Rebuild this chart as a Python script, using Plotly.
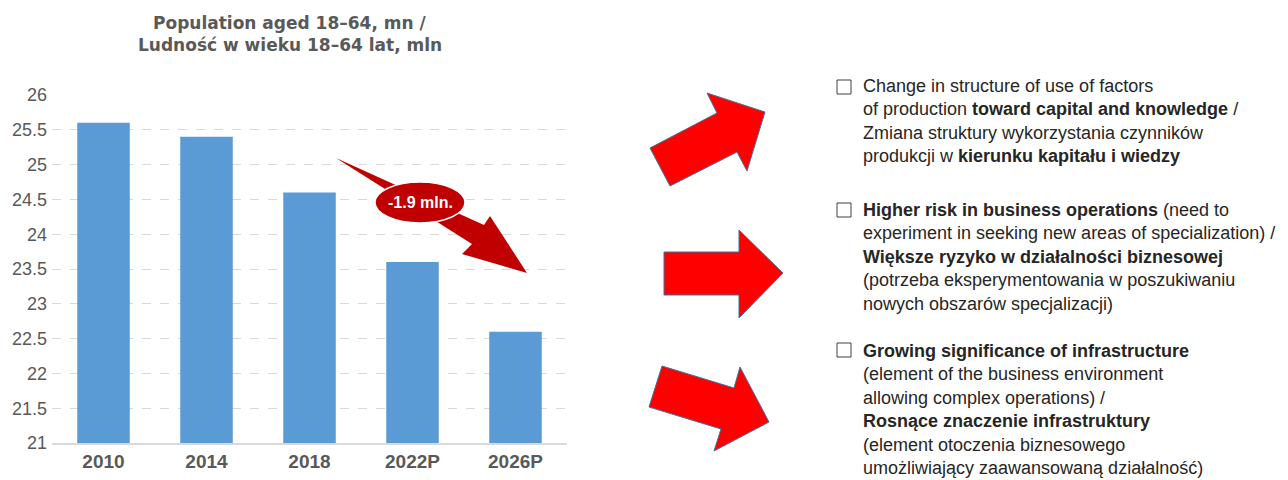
import plotly.graph_objects as go

# ---- data ----
years = ["2010", "2014", "2018", "2022P", "2026P"]
population = [25.6, 25.4, 24.6, 23.6, 22.6]
y_ticks = [21, 21.5, 22, 22.5, 23, 23.5, 24, 24.5, 25, 25.5, 26]
y_tick_labels = ["21", "21.5", "22", "22.5", "23", "23.5", "24", "24.5", "25", "25.5", "26"]
title_lines = ["Population aged 18–64, mn /", "Ludność w wieku 18–64 lat, mln"]
change_label = "-1.9 mln."
blocks = [
    "Change in structure of use of factors<br>of production <b>toward capital and knowledge</b> /<br>"
    "Zmiana struktury wykorzystania czynników<br>produkcji w <b>kierunku kapitału i wiedzy</b>",
    "<b>Higher risk in business operations</b> (need to<br>experiment in seeking new areas of specialization) /<br>"
    "<b>Większe ryzyko w działalności biznesowej</b><br>(potrzeba eksperymentowania w poszukiwaniu<br>"
    "nowych obszarów specjalizacji)",
    "<b>Growing significance of infrastructure</b><br>(element of the business environment<br>"
    "allowing complex operations) /<br><b>Rosnące znaczenie infrastruktury</b><br>"
    "(element otoczenia biznesowego<br>umożliwiający zaawansowaną działalność)",
]

W, H = 1288, 480


def X(px):
    return px / W


def Y(py):
    return 1 - py / H


def path(pts):
    return "M " + " L ".join(f"{X(a):.5f},{Y(b):.5f}" for a, b in pts) + " Z"


fig = go.Figure()
fig.add_trace(go.Bar(x=years, y=population, marker_color="#5B9BD5",
                     marker_line_width=0, hoverinfo="skip"))

shapes = []
# dark red decline arrow
shapes.append(dict(type="path", xref="paper", yref="paper",
                   path=path([(336, 158), (484, 225), (490, 216), (527, 273),
                              (462, 254), (472, 244)]),
                   fillcolor="#C00000", line=dict(width=0)))
# ellipse label
shapes.append(dict(type="circle", xref="paper", yref="paper",
                   x0=X(375), x1=X(465), y0=Y(223), y1=Y(182),
                   fillcolor="#C00000", line=dict(color="white", width=1.5)))
# big red arrows
red_arrows = [
    [(650, 148), (717, 113), (707, 93), (765, 112), (747, 171), (737, 152), (670, 186)],
    [(664, 252), (739, 252), (739, 230), (783, 273), (739, 318), (739, 295), (664, 295)],
    [(662, 366), (734, 388), (740, 367), (769, 422), (714, 451), (721, 429), (649, 407)],
]
for pts in red_arrows:
    shapes.append(dict(type="path", xref="paper", yref="paper", path=path(pts),
                       fillcolor="#FF0000", line=dict(color="#41719C", width=1)))
# checkboxes
for top in (80, 203, 343):
    shapes.append(dict(type="rect", xref="paper", yref="paper",
                       x0=X(837), x1=X(851), y0=Y(top + 14), y1=Y(top),
                       fillcolor="white", line=dict(color="#404040", width=1)))

annotations = []
for i, line in enumerate(title_lines):
    annotations.append(dict(text=f"<b>{line}</b>", xref="paper", yref="paper",
                            x=X(290), y=Y(23 + 22 * i), xanchor="center", yanchor="middle",
                            showarrow=False,
                            font=dict(family="DejaVu Sans", size=17, color="#595959")))
annotations.append(dict(text=f"<b>{change_label}</b>", xref="paper", yref="paper",
                        x=X(420), y=Y(202.5), xanchor="center", yanchor="middle",
                        showarrow=False,
                        font=dict(family="Liberation Sans, Arial", size=16, color="white")))
for txt, cy in zip(blocks, (121, 256.5, 409)):
    annotations.append(dict(text=txt, xref="paper", yref="paper",
                            x=X(861), y=Y(cy), xanchor="left", yanchor="middle",
                            align="left", showarrow=False,
                            font=dict(family="Liberation Sans, Arial", size=18, color="#262626")))

fig.update_layout(
    template="none",
    width=W, height=H,
    margin=dict(l=0, r=0, t=0, b=0, pad=0, autoexpand=False),
    paper_bgcolor="white", plot_bgcolor="rgba(0,0,0,0)",
    showlegend=False, bargap=0.49,
    shapes=shapes, annotations=annotations,
    xaxis=dict(type="category", domain=[X(52), X(567)], showgrid=False, automargin=False,
               showline=True, linecolor="#D9D9D9", linewidth=2,
               ticks="", tickfont=dict(family="Liberation Sans, Arial", size=19, color="#595959"),
               tickprefix="<b>", ticksuffix="</b>", fixedrange=True),
    yaxis=dict(domain=[Y(443), Y(95)], range=[21, 26], automargin=False,
               tickvals=y_ticks, ticktext=y_tick_labels, ticklabelstandoff=4,
               showgrid=True, gridcolor="#D9D9D9", griddash="dash", gridwidth=1,
               zeroline=False, showline=False, ticks="",
               tickfont=dict(family="Liberation Sans, Arial", size=18, color="#595959"),
               fixedrange=True),
)

fig.write_html("out.html", config={"displayModeBar": False},
               post_script="document.body.style.margin='0px';")
